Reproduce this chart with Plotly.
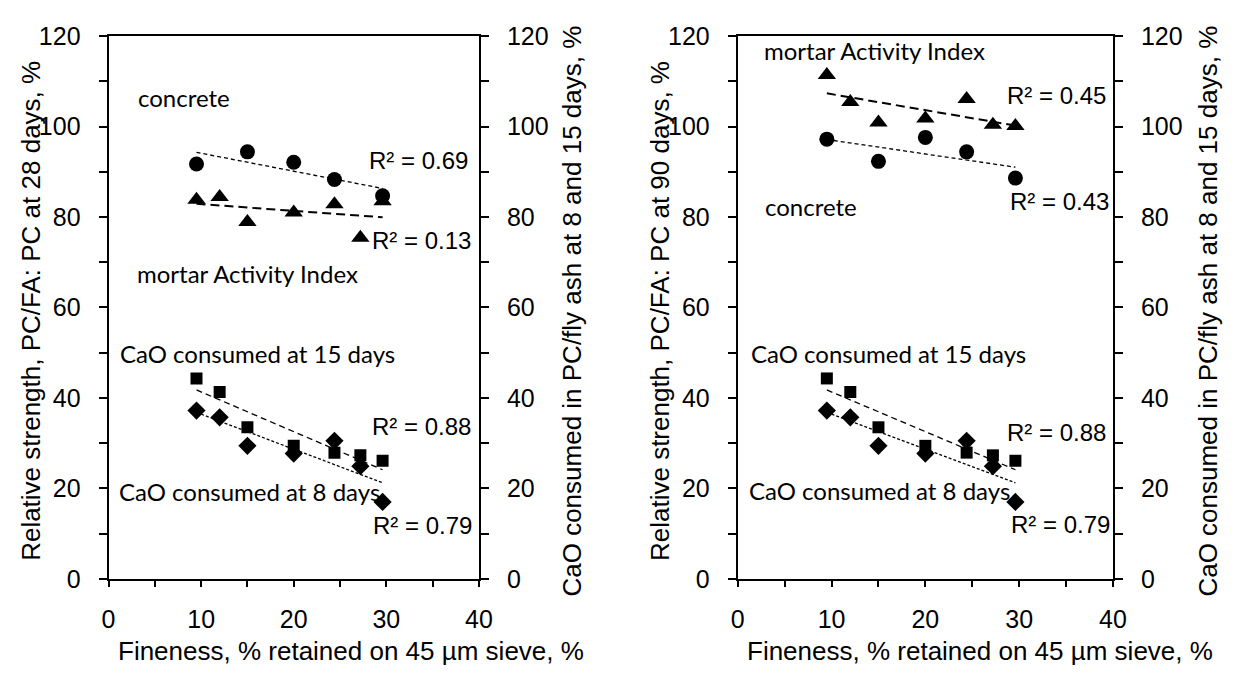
import numpy as np
import plotly.graph_objects as go

# ---------------- data ----------------
fineness_concrete = [9.5, 15.0, 20.0, 24.4, 29.6]
fineness_mortar = [9.5, 12.0, 15.0, 20.0, 24.4, 27.2, 29.6]
fineness_cao = [9.5, 12.0, 15.0, 20.0, 24.4, 27.2, 29.6]

concrete_28d = [91.7, 94.4, 92.1, 88.3, 84.7]
mortar_ai_28d = [83.8, 84.4, 78.9, 81.0, 82.8, 75.4, 83.5]
concrete_90d = [97.2, 92.3, 97.6, 94.4, 88.6]
mortar_ai_90d = [111.4, 105.4, 100.9, 101.8, 106.1, 100.4, 100.1]

cao_15d = [44.3, 41.3, 33.5, 29.4, 27.9, 27.3, 26.1]
cao_8d = [37.2, 35.7, 29.4, 27.7, 30.5, 24.9, 17.0]

r2_left = {"concrete": "R² = 0.69", "mortar": "R² = 0.13", "cao15": "R² = 0.88", "cao8": "R² = 0.79"}
r2_right = {"concrete": "R² = 0.43", "mortar": "R² = 0.45", "cao15": "R² = 0.88", "cao8": "R² = 0.79"}

x_title = "Fineness, % retained on 45 µm sieve, %"
y_title_left = "Relative strength, PC/FA: PC at 28 days, %"
y_title_right_panel = "Relative strength, PC/FA: PC at 90 days, %"
y2_title = "CaO consumed in PC/fly ash at 8 and 15 days, %"

ARIAL = "Liberation Sans, Arial, sans-serif"
CALIBRI = "Lato, Carlito, Calibri, sans-serif"

fig = go.Figure()


def trend(x, y):
    x = np.asarray(x, float)
    y = np.asarray(y, float)
    m, b = np.polyfit(x, y, 1)
    xs = np.array([x.min(), x.max()])
    return xs, m * xs + b


def add_series(x, y, xa, ya, symbol, size, dash, lw):
    xs, ys = trend(x, y)
    fig.add_trace(go.Scatter(x=xs, y=ys, xaxis=xa, yaxis=ya, mode="lines",
                             line=dict(color="black", width=lw, dash=dash),
                             showlegend=False, hoverinfo="skip"))
    fig.add_trace(go.Scatter(x=x, y=y, xaxis=xa, yaxis=ya, mode="markers",
                             marker=dict(symbol=symbol, size=size, color="black",
                                         line=dict(width=0)),
                             showlegend=False))


# left panel
add_series(fineness_concrete, concrete_28d, "x", "y", "circle", 15, "4px,3px", 1.3)
add_series(fineness_mortar, mortar_ai_28d, "x", "y", "triangle-up", 16, "9px,5px", 2)
add_series(fineness_cao, cao_15d, "x", "y2", "square", 12, "6px,4px", 1.3)
add_series(fineness_cao, cao_8d, "x", "y2", "diamond", 14, "3px,2px", 1.3)
# right panel
add_series(fineness_concrete, concrete_90d, "x2", "y3", "circle", 15, "4px,3px", 1.3)
add_series(fineness_mortar, mortar_ai_90d, "x2", "y3", "triangle-up", 16, "9px,5px", 2)
add_series(fineness_cao, cao_15d, "x2", "y4", "square", 12, "6px,4px", 1.3)
add_series(fineness_cao, cao_8d, "x2", "y4", "diamond", 14, "3px,2px", 1.3)

W, H = 1242, 682
ydom = [(H - 589) / H, (H - 23) / H]
xdom1 = [103.3 / W, 480 / W]
xdom2 = [743.3 / W, 1125 / W]

tickfont = dict(family=ARIAL, size=25, color="black")
common_x = dict(range=[0, 40], dtick=10, showline=True, linecolor="black", linewidth=2,
                mirror=True, ticks="outside", ticklen=6, tickwidth=1.5, tickcolor="black",
                minor=dict(dtick=5, ticks="outside", ticklen=6, tickwidth=1.5, tickcolor="black"),
                showgrid=False, zeroline=False, tickfont=tickfont, ticklabelstandoff=11,
                fixedrange=True)
common_y = dict(range=[0, 120], dtick=20, showline=True, linecolor="black", linewidth=2,
                ticks="outside", ticklen=8, tickwidth=1.5, tickcolor="black",
                minor=dict(dtick=10, ticks="outside", ticklen=8, tickwidth=1.5, tickcolor="black"),
                showgrid=False, zeroline=False, tickfont=tickfont, ticklabelstandoff=13,
                fixedrange=True)

fig.update_layout(
    width=W, height=H, autosize=False,
    margin=dict(l=0, r=0, t=0, b=0),
    paper_bgcolor="white", plot_bgcolor="white",
    showlegend=False,
    xaxis=dict(domain=xdom1, anchor="y", **common_x),
    yaxis=dict(domain=ydom, anchor="x", side="left", **common_y),
    yaxis2=dict(overlaying="y", anchor="x", side="right", **common_y),
    xaxis2=dict(domain=xdom2, anchor="y3", **common_x),
    yaxis3=dict(domain=ydom, anchor="x2", side="left", **common_y),
    yaxis4=dict(overlaying="y3", anchor="x2", side="right", **common_y),
)

ann = []


def lab(text, x, y, xref, yref, font):
    ann.append(dict(text=text, x=x, y=y, xref=xref, yref=yref, xanchor="left",
                    yanchor="middle", showarrow=False, font=font))


cal = dict(family=CALIBRI, size=24, color="black")
ari = dict(family=ARIAL, size=24, color="black")

# left panel labels
lab("concrete", 3.0, 106.4, "x", "y", cal)
lab("mortar Activity Index", 2.9, 67.6, "x", "y", cal)
lab(r2_left["concrete"], 27.9, 92.4, "x", "y", ari)
lab(r2_left["mortar"], 28.2, 74.8, "x", "y", ari)
lab("CaO consumed at 15 days", 1.0, 49.9, "x", "y", cal)
lab(r2_left["cao15"], 28.2, 33.7, "x", "y", ari)
lab("CaO consumed at 8 days", 0.9, 19.2, "x", "y", cal)
lab(r2_left["cao8"], 28.3, 11.7, "x", "y", ari)

# right panel labels
lab("mortar Activity Index", 2.6, 116.7, "x2", "y3", cal)
lab(r2_right["mortar"], 28.5, 106.8, "x2", "y3", ari)
lab("concrete", 2.7, 82.4, "x2", "y3", cal)
lab(r2_right["concrete"], 28.8, 83.5, "x2", "y3", ari)
lab("CaO consumed at 15 days", 1.2, 49.9, "x2", "y3", cal)
lab(r2_right["cao15"], 28.5, 32.3, "x2", "y3", ari)
lab("CaO consumed at 8 days", 1.0, 19.5, "x2", "y3", cal)
lab(r2_right["cao8"], 28.9, 12.1, "x2", "y3", ari)

# axis titles
tfont = dict(family=ARIAL, size=26, color="black")


def title(text, px, py, angle=0):
    ann.append(dict(text=text, x=px / W, y=1 - py / H, xref="paper", yref="paper",
                    xanchor="center", yanchor="middle", showarrow=False,
                    textangle=angle, font=tfont))


title(x_title, 350, 664)
title(x_title, 990, 664)
title(y_title_left, 25, 310, -90)
title(y2_title, 575, 310, -90)
title(y_title_right_panel, 665, 310, -90)
title(y2_title, 1222, 310, -90)

fig.update_layout(annotations=ann)
fig.write_html("out.html")
